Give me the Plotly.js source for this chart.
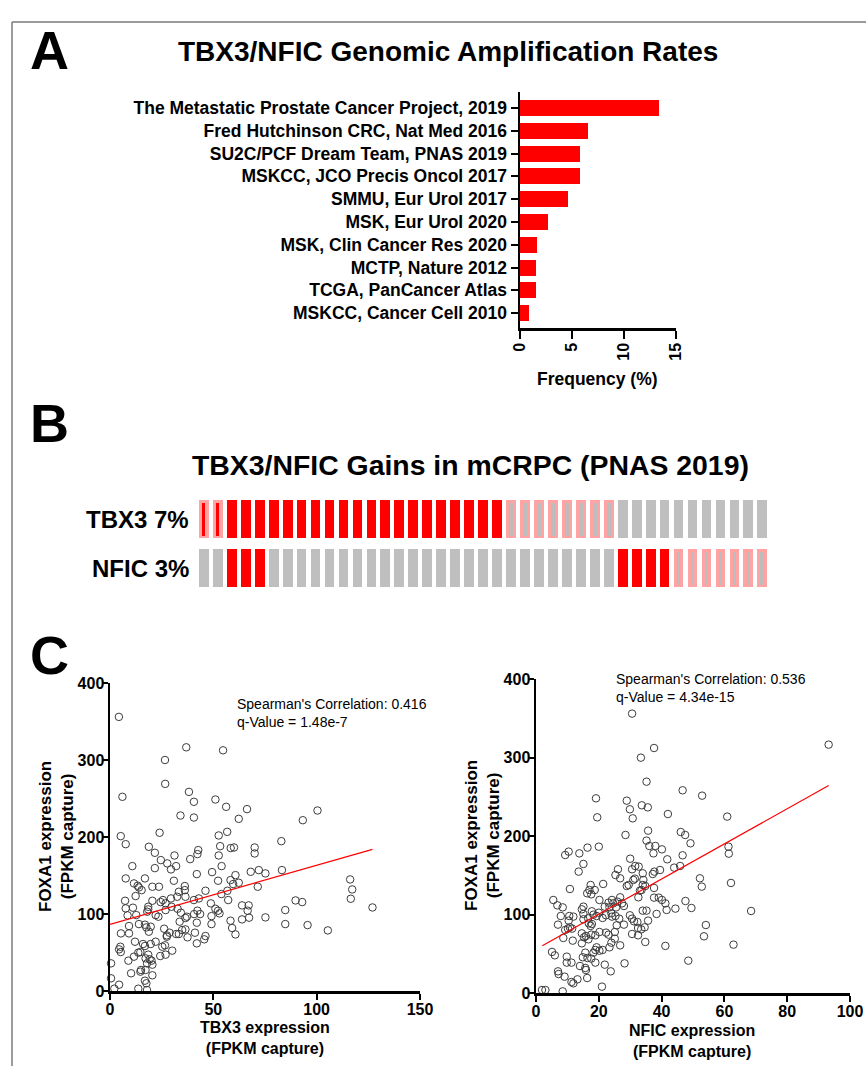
<!DOCTYPE html>
<html>
<head>
<meta charset="utf-8">
<script src="https://cdn.plot.ly/plotly-3.0.1.min.js"></script>
<style>
html,body{margin:0;padding:0;background:#fff;}
#chart{width:866px;height:1066px;}
</style>
</head>
<body>
<div id="chart"></div>
<script>
// ---------- Panel A data ----------
const studies = [
  "The Metastatic Prostate Cancer Project, 2019",
  "Fred Hutchinson CRC, Nat Med 2016",
  "SU2C/PCF Dream Team, PNAS 2019",
  "MSKCC, JCO Precis Oncol 2017",
  "SMMU, Eur Urol 2017",
  "MSK, Eur Urol 2020",
  "MSK, Clin Cancer Res 2020",
  "MCTP, Nature 2012",
  "TCGA, PanCancer Atlas",
  "MSKCC, Cancer Cell 2010"
];
const ampFreq = [13.35, 6.5, 5.8, 5.75, 4.6, 2.7, 1.6, 1.55, 1.55, 0.9];
const freqTicks = [0, 5, 10, 15];

// ---------- Panel B data (oncoprint, 41 samples) ----------
const tbx3Alt = ["ampGain","ampGain",
  "amp","amp","amp","amp","amp","amp","amp","amp","amp","amp",
  "amp","amp","amp","amp","amp","amp","amp","amp","amp","amp",
  "gain","gain","gain","gain","gain","gain","gain","gain",
  "none","none","none","none","none","none","none","none","none","none","none"];
const nficAlt = ["none","none","amp","amp","amp",
  "none","none","none","none","none","none","none","none","none","none",
  "none","none","none","none","none","none","none","none","none","none",
  "none","none","none","none","none",
  "amp","amp","amp","amp",
  "gain","gain","gain","gain","gain","gain","gain"];
const geneLabels = ["TBX3 7%", "NFIC 3%"];

// ---------- Panel C data ----------
const tbx3Expr = [4.3,36.9,54.7,26.6,26.7,93.3,100.4,89.8,93.0,95.6,105.4,116.2,117.2,116.5,127.0,
  6.0,38.2,40.6,51.0,56.2,66.3,34.1,40.6,62.3,5.2,7.6,24.0,52.6,56.7,82.9,18.8,21.7,42.7,42.3,53.3,
  58.4,60.0,70.0,70.0,31.2,38.8,24.6,52.6,10.8,27.7,21.7,29.5,32.0,54.0,7.6,16.9,42.0,49.4,60.7,68.1,
  72.0,83.2,75.2,11.6,13.4,14.0,15.3,20.5,23.7,30.9,36.2,36.2,33.3,32.5,12.4,46.2,52.3,58.3,59.6,62.3,
  56.8,71.5,53.9,57.2,20.5,24.5,25.6,26.9,29.5,36.5,40.6,43.0,48.8,51.0,52.3,53.0,63.9,67.1,66.6,63.9,
  67.3,75.2,84.8,84.8,58.3,59.1,60.7,7.3,7.6,11.1,8.5,12.7,14.0,18.5,18.5,22.1,23.4,26.9,29.8,32.7,
  34.3,36.5,37.2,33.7,40.7,42.3,43.6,42.0,49.1,49.1,18.0,9.2,9.2,5.3,16.9,17.6,18.8,19.7,26.2,28.8,
  27.5,32.0,33.3,34.9,36.5,37.5,41.1,42.0,45.6,46.2,5.0,4.4,5.2,8.9,11.6,13.7,14.7,12.1,16.0,16.9,
  19.7,22.1,25.3,26.6,27.5,30.1,24.3,26.9,18.5,19.2,20.1,20.5,17.2,17.9,15.0,14.7,17.2,20.5,16.9,17.6,
  10.2,0.5,0.5,4.4,2.1,13.7,17.9];
const foxa1VsTbx3 = [356,316.5,312.6,300,269,221.8,234.4,117.6,115.5,85.6,78.7,144.9,131.9,119.8,108.5,
  252.2,258.6,245.7,248.7,239.2,236.2,227.9,225.3,223.6,201.1,190.7,205.5,202.0,206.7,194.6,187.3,179.5,183.0,177.8,188.1,
  185.6,186.4,186.4,178.6,176.0,171.3,170.0,176.0,162.2,165.7,159.6,157.9,162.2,162.2,146.2,146.2,151.8,154.4,150.5,154.8,
  157.0,157.0,152.7,139.7,136.7,134.5,131.0,135.4,135.4,143.2,136.3,131.0,128.9,122.4,123.3,130.2,143.2,144.0,138.9,140.6,
  130.2,135.4,125.9,118.1,117.2,115.5,118.1,113.8,120.2,122.4,118.1,120.2,113.8,106.8,104.3,100.8,111.2,111.2,104.3,93.0,
  95.2,95.6,105.1,86.9,91.3,81.8,73.5,117.2,107.3,108.2,98.2,98.6,86.9,109.4,106.0,98.6,96.5,105.1,109.4,106.8,
  101.7,94.8,96.5,90.0,99.9,104.3,99.9,88.7,97.3,86.9,103.0,84.4,74.8,74.8,86.1,82.6,77.0,83.5,80.9,75.7,
  70.5,74.0,74.0,79.2,80.0,69.7,75.7,61.9,67.1,71.4,57.5,54.1,50.6,39.4,44.6,49.8,50.6,64.0,61.0,58.4,
  61.0,64.0,57.5,59.3,72.2,52.4,45.4,47.2,47.2,41.1,39.4,34.2,42.4,35.9,27.3,25.1,27.3,20.4,13.4,10.0,
  23.0,35.9,16.5,8.2,3.0,3.0,1.3];
const tbx3FitX = [0, 127];
const tbx3FitY = [86.5, 184];

const nficExpr = [30.6,37.6,33.4,35.2,93.2,46.7,52.9,60.9,61.3,61.4,62.1,68.5,62.9,54.1,53.5,
  19.1,28.9,33.7,35.6,29.9,19.5,30.8,42.0,28.5,35.7,35.2,36.1,38.0,40.1,46.1,47.5,49.2,37.4,46.7,41.8,
  30.0,9.3,10.4,13.8,16.4,20.0,15.1,13.6,10.8,26.1,30.6,31.6,32.7,25.3,26.8,28.9,29.5,31.0,31.5,34.0,
  37.2,37.7,39.5,44.0,45.9,52.2,52.8,34.2,34.0,34.8,33.1,33.6,32.6,37.6,37.6,39.1,40.1,41.2,41.6,44.4,
  47.6,49.5,38.4,17.4,17.0,16.3,17.6,21.4,18.7,20.2,21.9,23.1,24.2,24.6,25.9,27.4,28.0,26.8,25.5,23.4,
  24.0,20.0,17.8,18.3,19.3,15.1,14.6,15.1,5.5,6.8,8.5,7.9,10.6,11.9,10.4,7.0,15.1,16.6,16.8,17.4,
  17.8,21.2,22.3,24.2,25.3,25.7,26.5,28.0,29.9,30.6,31.2,32.3,34.0,35.2,35.7,32.5,33.5,34.6,30.6,32.5,
  34.8,41.2,48.5,8.7,9.3,10.2,10.8,11.5,11.7,14.6,15.3,15.9,16.7,14.6,17.6,18.9,20.2,22.3,23.1,25.1,
  25.1,24.0,26.8,23.4,19.3,18.9,20.2,21.2,18.3,15.7,14.9,17.6,16.4,15.7,15.9,16.3,9.8,9.8,11.3,14.0,
  5.1,6.0,7.0,7.2,9.1,11.3,11.9,13.2,18.9,21.9,23.8,28.2,21.0,1.9,3.0,8.5];
const foxa1VsNfic = [355.9,312.1,299.8,269.2,316.4,258.2,251.4,224.7,186.4,177.5,140.2,104.5,61.6,86.6,72.2,
  248.0,245.0,239.1,236.5,234.0,223.8,222.5,228.0,201.3,206.8,194.1,187.3,187.3,183.0,205.1,201.3,190.7,177.9,175.4,170.3,
  171.1,175.8,180.1,177.9,185.2,186.4,164.4,154.6,132.5,157.6,157.6,161.8,161.0,150.3,146.1,136.3,137.6,144.0,145.7,152.5,
  151.6,154.6,156.7,159.7,161.8,146.1,135.5,144.0,137.6,136.3,130.4,131.2,121.9,133.8,121.5,121.5,118.5,114.2,105.8,107.5,
  117.2,108.3,100.7,137.6,131.2,127.0,125.7,138.9,131.2,118.5,110.0,115.1,118.5,114.2,116.4,114.2,110.8,121.9,109.1,109.1,
  101.5,102.3,104.1,99.8,98.1,110.0,106.6,100.7,118.5,111.7,109.1,98.1,98.1,97.3,92.2,87.1,93.9,95.1,88.8,85.4,
  87.9,95.6,99.0,97.3,98.1,86.2,94.7,87.1,99.0,94.7,91.3,90.5,104.9,104.9,92.2,82.8,81.1,83.7,75.2,73.5,
  65.0,60.0,41.2,70.1,80.3,82.0,83.7,82.0,66.7,76.0,70.9,72.6,68.4,63.3,74.3,73.5,77.7,76.9,74.3,77.7,
  69.2,64.1,60.7,58.2,58.2,54.8,53.9,54.8,51.4,51.4,45.5,43.8,44.6,31.9,29.3,19.1,46.3,38.7,38.7,34.4,
  52.3,48.0,27.6,24.2,20.8,14.0,12.3,17.4,38.7,36.1,27.6,37.8,8.1,3.8,3.8,2.1];
const nficFitX = [2.0, 93.2];
const nficFitY = [60.3, 264.2];

// ---------- helpers ----------
const W = 866, H = 1066;
const px = x => x / W;
const py = y => 1 - y / H;
const FONT = "Liberation Sans, Arial, Helvetica, sans-serif";

const cellColors = {amp: "#ff0000", gain: "#ffa3a3", ampGain: "#ffa3a3", none: "#bfbfbf"};
const innerColors = {ampGain: "#ff0000", gain: "#bdbdbd"};
const innerWidth = {ampGain: 0.2, gain: 0.26};
const sampleIdx = tbx3Alt.map((_, i) => i + 1);

function onco(alts, base, height) {
  const outer = {
    type: "bar", x: sampleIdx, y: alts.map(() => height), base: alts.map(() => base),
    width: 0.7, marker: {color: alts.map(a => cellColors[a]), line: {width: 0}},
    xaxis: "x2", yaxis: "y2", hoverinfo: "skip", showlegend: false
  };
  const idx = sampleIdx.filter((s, i) => innerColors[alts[i]]);
  const inner = {
    type: "bar", x: idx, y: idx.map(() => height - 5), base: idx.map(() => base + 2.5),
    width: idx.map(s => innerWidth[alts[s - 1]]),
    marker: {color: idx.map(s => innerColors[alts[s - 1]]), line: {width: 0}},
    xaxis: "x2", yaxis: "y2", hoverinfo: "skip", showlegend: false
  };
  return [outer, inner];
}

const scatterMarker = {symbol: "circle-open", size: 7.5, color: "#3c3c3c", line: {width: 1, color: "#3c3c3c"}};

const traces = [
  {type: "bar", orientation: "h", y: studies, x: ampFreq, width: 0.7,
   marker: {color: "#ff0000", line: {width: 0}}, xaxis: "x", yaxis: "y", showlegend: false},
  ...onco(tbx3Alt, 49, 38),
  ...onco(nficAlt, 0, 38),
  {type: "scatter", mode: "markers", x: tbx3Expr, y: foxa1VsTbx3, marker: scatterMarker,
   xaxis: "x3", yaxis: "y3", cliponaxis: false, showlegend: false},
  {type: "scatter", mode: "lines", x: tbx3FitX, y: tbx3FitY, line: {color: "#ff0000", width: 1.2},
   xaxis: "x3", yaxis: "y3", showlegend: false},
  {type: "scatter", mode: "markers", x: nficExpr, y: foxa1VsNfic, marker: scatterMarker,
   xaxis: "x4", yaxis: "y4", cliponaxis: false, showlegend: false},
  {type: "scatter", mode: "lines", x: nficFitX, y: nficFitY, line: {color: "#ff0000", width: 1.2},
   xaxis: "x4", yaxis: "y4", showlegend: false}
];

const axBase = {
  showline: true, linecolor: "#000", linewidth: 2.5, ticks: "outside", ticklen: 6, tickwidth: 2,
  tickcolor: "#000", showgrid: false, zeroline: false, fixedrange: true,
  tickfont: {family: FONT, size: 16, color: "#000", weight: "bold"}
};

const layout = {
  width: W, height: H, margin: {l: 0, r: 0, t: 0, b: 0},
  paper_bgcolor: "#fff", plot_bgcolor: "rgba(0,0,0,0)",
  font: {family: FONT, color: "#000"},
  barmode: "overlay", bargap: 0,
  showlegend: false,
  xaxis: Object.assign({}, axBase, {domain: [px(520), px(676)], anchor: "y", range: [0, 15],
    tickvals: freqTicks, tickangle: -90, ticklen: 8, ticklabelstandoff: -2}),
  yaxis: Object.assign({}, axBase, {domain: [py(328), py(91.5)], anchor: "x", type: "category",
    categoryorder: "array", categoryarray: studies, autorange: false, range: [9.65, -0.72],
    ticklen: 7, tickfont: {family: FONT, size: 17.5, color: "#000", weight: "bold"}}),
  xaxis2: {domain: [px(196.9), px(769.3)], anchor: "y2", range: [0.5, 41.5], visible: false, fixedrange: true},
  yaxis2: {domain: [py(587), py(500)], anchor: "x2", range: [0, 87], visible: false, fixedrange: true},
  xaxis3: Object.assign({}, axBase, {domain: [px(110), px(420)], anchor: "y3", range: [0, 150], dtick: 50, ticklabelstandoff: -4}),
  yaxis3: Object.assign({}, axBase, {domain: [py(991), py(683)], anchor: "x3", range: [0, 400], dtick: 100, ticklabelstandoff: -6}),
  xaxis4: Object.assign({}, axBase, {domain: [px(536), px(850)], anchor: "y4", range: [0, 100], dtick: 20, ticklabelstandoff: -4}),
  yaxis4: Object.assign({}, axBase, {domain: [py(993), py(679)], anchor: "x4", range: [0, 400], dtick: 100, ticklabelstandoff: -6}),
  shapes: [
    {type: "line", xref: "paper", yref: "paper", x0: px(12), x1: 1, y0: py(22), y1: py(22), line: {color: "#7a7a7a", width: 1.5}},
    {type: "line", xref: "paper", yref: "paper", x0: px(12), x1: px(12), y0: py(22), y1: 0, line: {color: "#7a7a7a", width: 1.5}}
  ],
  annotations: [
    {text: "A", x: px(28), y: py(50), xanchor: "left", yanchor: "middle", font: {size: 54, weight: "bold"}},
    {text: "TBX3/NFIC Genomic Amplification Rates", x: px(448), y: py(51), xanchor: "center", yanchor: "middle", font: {size: 28, weight: "bold"}},
    {text: "Frequency (%)", x: px(597), y: py(379), xanchor: "center", yanchor: "middle", font: {size: 17.5, weight: "bold"}},
    {text: "B", x: px(28), y: py(423), xanchor: "left", yanchor: "middle", font: {size: 54, weight: "bold"}},
    {text: "TBX3/NFIC Gains in mCRPC (PNAS 2019)", x: px(470), y: py(465), xanchor: "center", yanchor: "middle", font: {size: 28.4, weight: "bold"}},
    {text: geneLabels[0], x: px(191), y: py(519), xanchor: "right", yanchor: "middle", font: {size: 24, weight: "bold"}},
    {text: geneLabels[1], x: px(191), y: py(568), xanchor: "right", yanchor: "middle", font: {size: 24, weight: "bold"}},
    {text: "C", x: px(28), y: py(655), xanchor: "left", yanchor: "middle", font: {size: 54, weight: "bold"}},
    {text: "Spearman's Correlation: 0.416<br>q-Value = 1.48e-7", x: px(235), y: py(694), xanchor: "left", yanchor: "top", align: "left", font: {size: 14}},
    {text: "Spearman's Correlation: 0.536<br>q-Value = 4.34e-15", x: px(614), y: py(669), xanchor: "left", yanchor: "top", align: "left", font: {size: 14}},
    {text: "FOXA1 expression<br>(FPKM capture)", x: px(56), y: py(837), textangle: -90, xanchor: "center", yanchor: "middle", font: {size: 17, weight: "bold"}},
    {text: "FOXA1 expression<br>(FPKM capture)", x: px(482), y: py(836), textangle: -90, xanchor: "center", yanchor: "middle", font: {size: 17, weight: "bold"}},
    {text: "TBX3 expression<br>(FPKM capture)", x: px(265), y: py(1038), xanchor: "center", yanchor: "middle", font: {size: 16, weight: "bold"}},
    {text: "NFIC expression<br>(FPKM capture)", x: px(692), y: py(1041), xanchor: "center", yanchor: "middle", font: {size: 16, weight: "bold"}}
  ].map(a => Object.assign({xref: "paper", yref: "paper", showarrow: false}, a, {font: Object.assign({family: FONT, color: "#000"}, a.font)}))
};

Plotly.newPlot("chart", traces, layout, {displayModeBar: false, staticPlot: true});
</script>
</body>
</html>
